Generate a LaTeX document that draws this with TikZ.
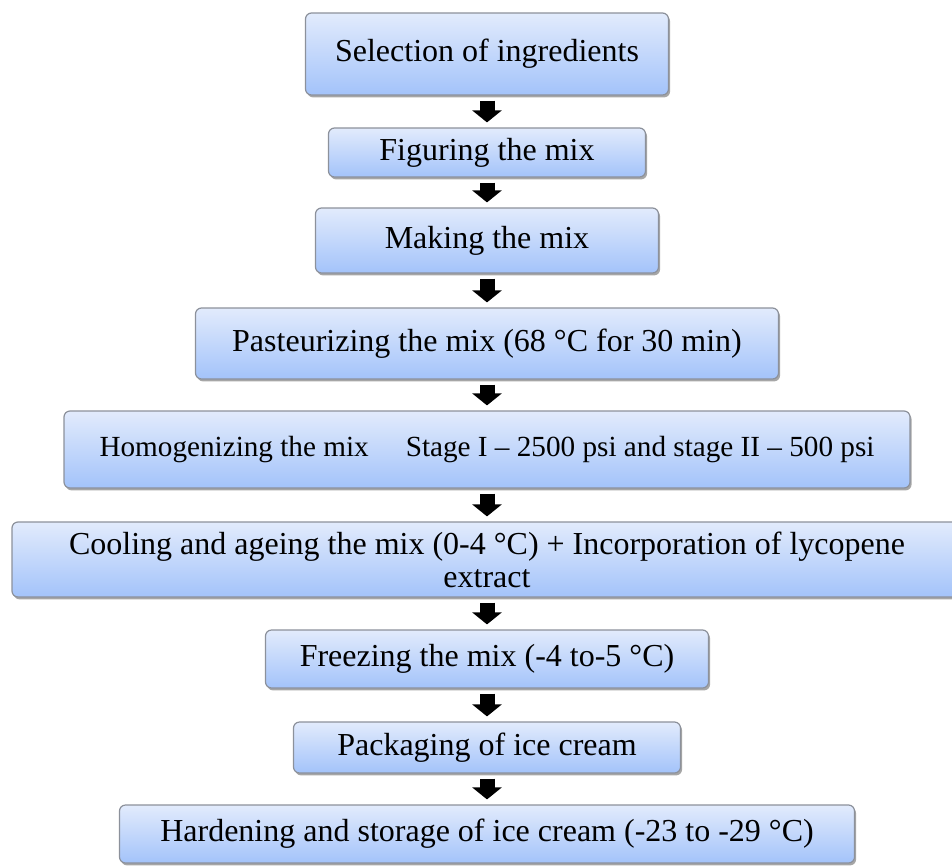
\documentclass[tikz,border=0pt]{standalone}
\usepackage{fontspec}
\setmainfont{Liberation Serif}
\usetikzlibrary{arrows.meta, shadows}

\definecolor{boxtop}{RGB}{226,235,252}
\definecolor{boxbot}{RGB}{163,195,250}
\definecolor{boxline}{RGB}{140,145,155}

\begin{document}
\begin{tikzpicture}[
        x=0.5pt, y=-0.5pt,
        stepbox/.style={draw=boxline, line width=0.6pt, rounded corners=3pt,
            top color=boxtop, bottom color=boxbot,
            drop shadow={shadow xshift=0.8pt, shadow yshift=-1.2pt, opacity=0.35, fill=black},
            inner sep=0pt, align=center, font=\fontsize{16}{16.5}\selectfont},
        blockarrow/.style={line width=7.5pt, -{Triangle[width=14.5pt, length=6pt]},
            shorten <=2.5pt, shorten >=2.5pt}
    ]

        % Fix the canvas to the reference size
        \useasboundingbox (0,0) rectangle (952,867);
        \clip (0,0) rectangle (952,867);

        % Process steps, top to bottom
        \node[stepbox, minimum width=181.5pt, minimum height=41pt] (sel) at (487,54) {Selection of ingredients};
        \node[stepbox, minimum width=158.5pt, minimum height=24.5pt] (fig) at (487,152.5) {Figuring the mix};
        \node[stepbox, minimum width=171.5pt, minimum height=32.5pt] (make) at (487,240.5) {Making the mix};
        \node[stepbox, minimum width=291.5pt, minimum height=35.5pt] (past) at (487,343.5) {Pasteurizing the mix (68 °C for 30 min)};
        \node[stepbox, minimum width=423pt, minimum height=38.5pt, font=\fontsize{14.6}{16}\selectfont] (homog) at (487,449.5)
            {Homogenizing the mix\hspace{18.5pt}Stage I – 2500 psi and stage II – 500 psi};
        \node[stepbox, minimum width=475pt, minimum height=37.5pt] (cool) at (487,559.5)
            {Cooling and ageing the mix (0-4 °C) + Incorporation of lycopene\\extract};
        \node[stepbox, minimum width=221.5pt, minimum height=29pt] (freeze) at (487,659) {Freezing the mix (-4 to-5 °C)};
        \node[stepbox, minimum width=193.5pt, minimum height=25.5pt] (pack) at (487,747.5) {Packaging of ice cream};
        \node[stepbox, minimum width=367.5pt, minimum height=29pt] (hard) at (487,834) {Hardening and storage of ice cream (-23 to -29 °C)};

        % Block arrows between the steps
        \foreach \from/\to in {sel/fig, fig/make, make/past, past/homog, homog/cool,
                               cool/freeze, freeze/pack, pack/hard}
            \draw[blockarrow] (\from.south) -- (\to.north);

    \end{tikzpicture}
\end{document}
